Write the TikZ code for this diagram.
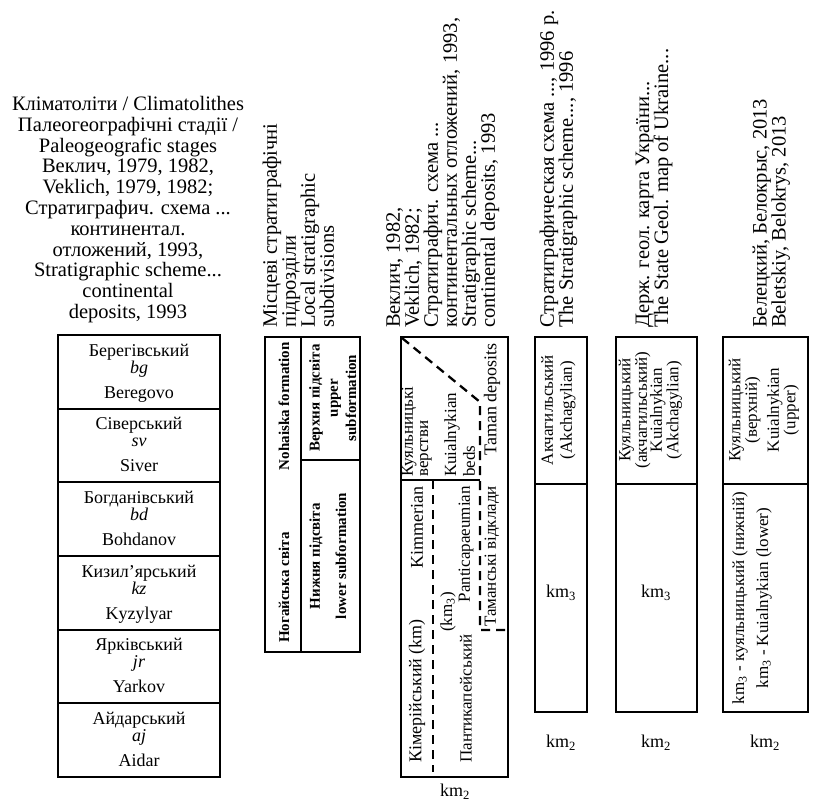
\documentclass[tikz,border=0pt]{standalone}
\usepackage{fontspec}
\setmainfont{Liberation Serif}
\begin{document}
\begin{tikzpicture}[x=1pt,y=-1pt,
  box/.style={line width=2.3pt},
  dsh/.style={line width=2.3pt, dash pattern=on 9pt off 6pt},
  hdr/.style={font=\fontsize{20.5}{19}\selectfont, inner sep=0pt, align=left},
  cell/.style={font=\fontsize{18}{18}\selectfont, inner sep=0pt},
  txt/.style={font=\fontsize{17}{17}\selectfont, inner sep=0pt},
  bld/.style={font=\fontsize{15}{15}\selectfont\bfseries, inner sep=0pt},
  vert/.style={rotate=90}
]
\useasboundingbox (0,0) rectangle (819,802);

% ---------- headers ----------
\node[hdr, align=center, anchor=north, font=\fontsize{20.5}{20.8}\selectfont] (h1) at (128,96) {Кліматоліти / Climatolithes\\ Палеогеографічні стадії /\\ Paleogeografic stages\\ Веклич, 1979, 1982,\\ Veklich, 1979, 1982;\\ Стратиграфич. схема ...\\ континентал.\\ отложений, 1993,\\ Stratigraphic scheme...\\ continental\\ deposits, 1993};
\node[hdr, vert, anchor=north west] (h2) at (262.5,328) {Місцеві стратиграфічні\\підрозділи\\Local stratigraphic\\subdivisions};
\node[hdr, vert, anchor=north west] (h3) at (386,328) {Веклич, 1982,\\Veklich, 1982;\\Стратиграфич. схема ...\\континентальных отложений, 1993,\\Stratigraphic scheme...\\continental deposits, 1993};
\node[hdr, vert, anchor=north west] (h4) at (539.5,328) {Стратиграфическая схема ..., 1996 р.\\The Stratigraphic scheme..., 1996};
\node[hdr, vert, anchor=north west] (h5) at (635.5,328) {Держ. геол. карта України...\\The State Geol. map of Ukraine...};
\node[hdr, vert, anchor=north west] (h6) at (752.5,328) {Белецкий, Белокрыс, 2013\\Beletskiy, Belokrys, 2013};

% ---------- column 1 ----------
\draw[box] (58,335) rectangle (220,777);
\foreach \i in {1,...,5}{
  \draw[box] (58,335+73.667*\i) -- (220,335+73.667*\i);
}
\foreach \i/\ua/\ab/\en in {0/Берегівський/bg/Beregovo,1/Сіверський/sv/Siver,2/Богданівський/bd/Bohdanov,3/Кизил’ярський/kz/Kyzylyar,4/Ярківський/jr/Yarkov,5/Айдарський/aj/Aidar}{
  \pgfmathsetmacro\t{335+73.667*\i}
  \node[cell, anchor=base] (u\i) at (139,\t+21) {\ua};
  \node[cell, anchor=base, font=\fontsize{18}{18}\selectfont\itshape] (a\i) at (139,\t+38) {\ab};
  \node[cell, anchor=base] (e\i) at (139,\t+63) {\en};
}

% ---------- column 2 ----------
\draw[box] (265,337) rectangle (360,652);
\draw[box] (301,337) -- (301,652);
\draw[box] (301,460) -- (360,460);
\node[bld, vert, anchor=east] (nf) at (284,342) {Nohaiska formation};
\node[bld, vert, anchor=west] (ns) at (284,643) {Ногайська світа};
\node[bld, vert] (vp) at (316,398) {Верхня підсвіта};
\node[bld, vert] (up) at (336,398) {upper};
\node[bld, vert] (sf) at (351,398) {subformation};
\node[bld, vert] (np) at (316,556) {Нижня підсвіта};
\node[bld, vert] (ls) at (341,556) {lower subformation};

% ---------- column 3 ----------
\draw[box] (401,337) rectangle (508,777);
\draw[box] (401,480) -- (480,480);
\draw[dsh] (402,338) -- (480,402) -- (480,630) -- (508,630);
\draw[dsh] (433,480) -- (433,772);
\node[txt, vert, anchor=west] (kv1) at (409,477) {Куяльницькі};
\node[txt, vert, anchor=west] (kv2) at (426,477) {верстви};
\node[txt, vert, anchor=west] (kb1) at (452,477) {Kuialnykian};
\node[txt, vert, anchor=west] (kb2) at (469,477) {beds};
\node[txt, vert, anchor=west] (tv) at (492,627) {Таманські відклади};
\node[cell, vert, anchor=east] (td) at (492,343) {Taman deposits};
\node[cell, vert, anchor=west] (km) at (417,763) {Кімерійський (km)};
\node[cell, vert, anchor=east] (ki) at (417,486) {Kimmerian};
\node[txt, vert] (k3) at (448,612) {(km\textsubscript{3})};
\node[txt, vert, anchor=west] (pu) at (466,763) {Пантикапейський};
\node[txt, vert, anchor=east] (pe) at (466,486) {Panticapaeumian};
\node[cell] (kmA) at (455,792) {km\textsubscript{2}};

% ---------- column 4 ----------
\draw[box] (535,337) rectangle (587,712);
\draw[box] (535,484) -- (587,484);
\node[txt, vert, align=center, font=\fontsize{17}{19}\selectfont] (c4) at (558.5,410) {Акчагильський\\(Akchagylian)};
\node[cell] (c4k) at (561,593) {km\textsubscript{3}};
\node[cell] (kmB) at (561,743) {km\textsubscript{2}};

% ---------- column 5 ----------
\draw[box] (616,337) rectangle (697,712);
\draw[box] (616,484) -- (697,484);
\node[txt, vert, align=center, font=\fontsize{17}{15}\selectfont] (c5a) at (634.5,410) {Куяльницький\\(акчагильський)};
\node[txt, vert, align=center, font=\fontsize{17}{14}\selectfont] (c5b) at (666,410) {Kuialnykian\\(Akchagylian)};
\node[cell] (c5k) at (656,593) {km\textsubscript{3}};
\node[cell] (kmC) at (656,743) {km\textsubscript{2}};

% ---------- column 6 ----------
\draw[box] (723,337) rectangle (808,712);
\draw[box] (723,484) -- (808,484);
\node[txt, vert, align=center, font=\fontsize{17}{15}\selectfont] (c6a) at (744.5,410) {Куяльницький\\(верхній)};
\node[txt, vert, align=center, font=\fontsize{17}{15}\selectfont] (c6b) at (783,410) {Kuialnykian\\(upper)};
\node[txt, vert] (c6c) at (740,598) {km\textsubscript{3} - куяльницький (нижній)};
\node[txt, vert] (c6d) at (764,598) {km\textsubscript{3} - Kuialnykian (lower)};
\node[cell] (kmD) at (765,743) {km\textsubscript{2}};
\end{tikzpicture}
\end{document}
